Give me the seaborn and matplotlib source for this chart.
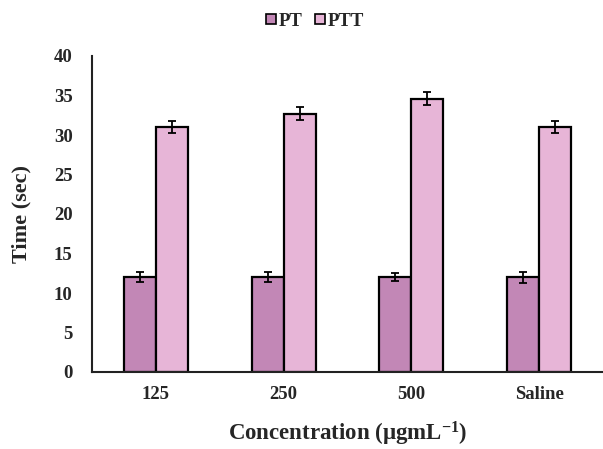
import matplotlib
matplotlib.use("Agg")
import matplotlib.pyplot as plt
import seaborn as sns
import pandas as pd
import numpy as np
from matplotlib.patches import Patch

categories = ["125", "250", "500", "Saline"]
pt_values = [12.0, 12.0, 12.0, 12.0]
ptt_values = [31.0, 32.7, 34.6, 31.0]
pt_err = [0.6, 0.6, 0.5, 0.7]
ptt_err = [0.8, 0.8, 0.8, 0.8]
series = ["PT", "PTT"]
colors = ["#c287b6", "#e7b5d7"]
yticks = [0, 5, 10, 15, 20, 25, 30, 35, 40]

sns.set_style("white")
plt.rcParams['font.family'] = ['Liberation Serif', 'DejaVu Serif']
plt.rcParams['font.weight'] = 'bold'
plt.rcParams['mathtext.fontset'] = 'custom'
plt.rcParams['mathtext.rm'] = 'Liberation Serif:bold'
plt.rcParams['mathtext.bf'] = 'Liberation Serif:bold'
plt.rcParams['mathtext.default'] = 'bf'

df = pd.DataFrame({
    "Concentration": categories * 2,
    "Series": ["PT"] * len(categories) + ["PTT"] * len(categories),
    "Time": pt_values + ptt_values,
    "Err": pt_err + ptt_err,
})

fig = plt.figure(figsize=(6.03, 4.49), dpi=100)
ax = fig.add_axes([92/603, (449-372)/449, 1 - 92/603, (372-56)/449])

sns.barplot(data=df, x="Concentration", y="Time", hue="Series", order=categories,
            hue_order=series, palette=colors, width=0.5, errorbar=None,
            edgecolor="black", linewidth=1.6, ax=ax, legend=False, saturation=1)

bars = [p for p in ax.patches]
errs = pt_err + ptt_err
vals = pt_values + ptt_values
for p, e, v in zip(bars, errs, vals):
    xc = p.get_x() + p.get_width() / 2
    ax.errorbar(xc, v, yerr=e, fmt="none", ecolor="black", elinewidth=1.3,
                capsize=3, capthick=1.3, zorder=5)

ax.set_xlim(-0.5, 3.5)
ax.set_ylim(0, 40)
ax.set_yticks(yticks)
ax.set_yticklabels([str(t) for t in yticks], fontsize=13.5, fontweight="bold")
ax.set_xticklabels(categories, fontsize=13.5, fontweight="bold")
ax.tick_params(axis="both", length=0)
ax.tick_params(axis="x", pad=10)
ax.tick_params(axis="y", pad=14)
for s in ["top", "right"]:
    ax.spines[s].set_visible(False)
for s in ["left", "bottom"]:
    ax.spines[s].set_color("#222222")
    ax.spines[s].set_linewidth(1.5)

ax.set_ylabel("Time (sec)", fontsize=16, fontweight="bold", labelpad=16)
ax.set_xlabel("Concentration (\u03bcgmL$^{-1}$)", fontsize=16.5, fontweight="bold", labelpad=12)

handles = [Patch(facecolor=c, edgecolor="black", linewidth=1.2, label=s) for c, s in zip(colors, series)]
fig.legend(handles=handles, loc="center", bbox_to_anchor=(315/603, 1 - 21/449), ncol=2,
           frameon=False, prop={"weight": "bold", "size": 13.5}, handlelength=0.5, handleheight=0.5,
           handletextpad=0.15, columnspacing=0.7)

fig.savefig("out.png", dpi=100)
